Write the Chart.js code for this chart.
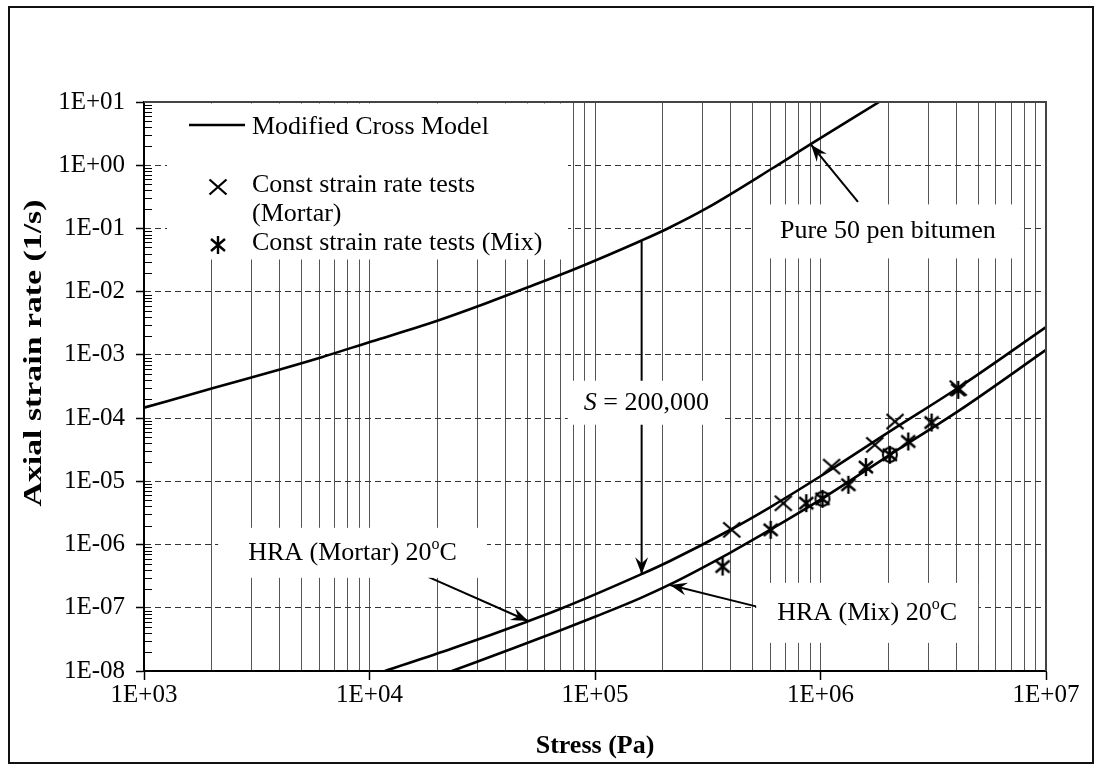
<!DOCTYPE html>
<html>
<head>
<meta charset="utf-8">
<script src="https://cdn.jsdelivr.net/npm/chart.js@4/dist/chart.umd.min.js"></script>
<style>
  html, body { margin: 0; padding: 0; background: #fff; }
  #wrap { width: 1102px; height: 774px; }
</style>
</head>
<body>
<div id="wrap"><canvas id="c" width="1102" height="774"></canvas></div>
<script>
const SERIF = '"Liberation Serif","Times New Roman",Times,serif';

// Modified Cross Model curves: stress (Pa) vs axial strain rate (1/s)
const bitumenStress = [1000, 2030, 4080, 6140, 10200, 16700, 20600, 30900, 51500, 83000, 161000, 208000, 313000, 618000, 897000, 1820000];
const bitumenRate   = [1.46e-4, 2.99e-4, 6.0e-4, 9.2e-4, 1.63e-3, 2.81e-3, 3.6e-3, 6.05e-3, 1.21e-2, 2.35e-2, 6.45e-2, 9.8e-2, 0.209, 0.912, 2.11, 10];

const mortarStress = [11700, 23400, 49900, 70000, 158000, 215000, 397000, 597000, 1020000, 2030000, 4160000, 10000000];
const mortarRate   = [1.0e-8, 2.29e-8, 6.03e-8, 9.55e-8, 3.31e-7, 5.5e-7, 1.70e-6, 3.89e-6, 1.26e-5, 6.17e-5, 3.16e-4, 2.75e-3];

const mixStress = [23200, 43400, 70000, 102000, 158000, 215000, 397000, 597000, 1020000, 2030000, 4160000, 10000000];
const mixRate   = [1.0e-8, 2.29e-8, 4.37e-8, 7.41e-8, 1.41e-7, 2.34e-7, 7.41e-7, 1.70e-6, 5.37e-6, 2.63e-5, 1.35e-4, 1.2e-3];

// Constant strain rate tests
const mortarTestStress = [404000, 684000, 1120000, 1740000, 2140000, 4080000];
const mortarTestRate   = [1.71e-6, 4.5e-6, 1.71e-5, 3.78e-5, 8.83e-5, 2.98e-4];

const mixTestStress = [368000, 601000, 865000, 1020000, 1330000, 1590000, 2030000, 2450000, 3110000, 4080000];
const mixTestRate   = [4.49e-7, 1.71e-6, 4.52e-6, 5.28e-6, 8.81e-6, 1.68e-5, 2.63e-5, 4.27e-5, 8.51e-5, 2.8e-4];
// stresses at which the mix test was repeated
const repeatedMixStress = [1020000, 2030000];

// Axis ticks
const xDecades = [1e3, 1e4, 1e5, 1e6, 1e7];
const xDecadeLabels = ['1E+03', '1E+04', '1E+05', '1E+06', '1E+07'];
const yDecades = [1e-8, 1e-7, 1e-6, 1e-5, 1e-4, 1e-3, 1e-2, 1e-1, 1e0, 1e1];
const yDecadeLabels = ['1E-08', '1E-07', '1E-06', '1E-05', '1E-04', '1E-03', '1E-02', '1E-01', '1E+00', '1E+01'];
const minorSteps = [2, 3, 4, 5, 6, 7, 8, 9];

const pairs = (xs, ys) => xs.map((x, i) => ({x, y: ys[i]}));

// ---- marker glyphs ----
function crossMark() {
  const c = document.createElement('canvas');
  c.width = 22; c.height = 20;
  const g = c.getContext('2d');
  g.strokeStyle = '#000'; g.lineWidth = 2.3;
  g.beginPath();
  g.moveTo(2.5, 2.5); g.lineTo(19.5, 17.5);
  g.moveTo(19.5, 2.5); g.lineTo(2.5, 17.5);
  g.stroke();
  return c;
}
function asteriskMark(circled) {
  const c = document.createElement('canvas');
  c.width = 22; c.height = 22;
  const g = c.getContext('2d');
  g.strokeStyle = '#000'; g.lineWidth = 2.4;
  g.beginPath();
  g.moveTo(4, 5); g.lineTo(18, 17);
  g.moveTo(18, 5); g.lineTo(4, 17);
  g.moveTo(11, 2); g.lineTo(11, 20);
  g.stroke();
  if (circled) {
    g.lineWidth = 2;
    g.beginPath(); g.arc(11, 11, 7, 0, Math.PI * 2); g.stroke();
  }
  return c;
}
const CROSS = crossMark();
const STAR = asteriskMark(false);
const STAR_RING = asteriskMark(true);

// ---- text labels and arrows (data coordinates) ----
const labels = [
  {parts: [{t: 'Pure 50 pen bitumen'}], x: 1.99e6, y: 0.0897, padX: 25, padY: 27},
  {parts: [{t: 'S', it: true}, {t: ' = 200,000'}], x: 1.69e5, y: 1.75e-4, padX: 16, padY: 22},
  {parts: [{t: 'HRA (Mortar) 20'}, {t: 'o', sup: true}, {t: 'C'}], x: 8.41e3, y: 7.4e-7, padX: 30, padY: 25},
  {parts: [{t: 'HRA (Mix) 20'}, {t: 'o', sup: true}, {t: 'C'}], x: 1.61e6, y: 8.3e-8, padX: 21, padY: 30}
];
const arrows = [
  {from: [1.466e6, 0.264], to: [9.08e5, 2.11]},
  {from: [1.61e5, 0.064], to: [1.61e5, 3.4e-7]},
  {from: [1.82e4, 3.08e-7], to: [5.05e4, 6.17e-8]},
  {from: [5.97e5, 9.27e-8], to: [2.15e5, 2.3e-7]}
];

const FS = 26;
function fontFor(p) {
  const size = p.sup ? Math.round(FS * 0.62) : FS;
  return (p.it ? 'italic ' : '') + size + 'px ' + SERIF;
}
function measureParts(ctx, parts) {
  let w = 0;
  parts.forEach(p => { ctx.font = fontFor(p); w += ctx.measureText(p.t).width; });
  return w;
}
function drawParts(ctx, parts, cx, cy) {
  const w = measureParts(ctx, parts);
  let x = cx - w / 2;
  ctx.textAlign = 'left';
  ctx.textBaseline = 'middle';
  ctx.fillStyle = '#000';
  parts.forEach(p => {
    ctx.font = fontFor(p);
    ctx.fillText(p.t, x, p.sup ? cy - FS * 0.32 : cy);
    x += ctx.measureText(p.t).width;
  });
}
function drawArrow(ctx, x1, y1, x2, y2) {
  ctx.beginPath(); ctx.moveTo(x1, y1); ctx.lineTo(x2, y2); ctx.stroke();
  const a = Math.atan2(y2 - y1, x2 - x1), L = 17, W = 6.5;
  const c = Math.cos(a), s = Math.sin(a);
  ctx.beginPath();
  ctx.moveTo(x2, y2);
  ctx.lineTo(x2 - L * c + W * s, y2 - L * s - W * c);
  ctx.lineTo(x2 - L * 0.65 * c, y2 - L * 0.65 * s);
  ctx.lineTo(x2 - L * c - W * s, y2 - L * s + W * c);
  ctx.closePath();
  ctx.fill();
}

const decorations = {
  id: 'decorations',
  beforeDatasetsDraw(chart) {
    const {ctx, chartArea: a, scales: {x, y}} = chart;
    ctx.save();
    ctx.beginPath(); ctx.rect(a.left, a.top, a.right - a.left, a.bottom - a.top); ctx.clip();
    // arrows
    ctx.strokeStyle = '#000'; ctx.fillStyle = '#000'; ctx.lineWidth = 2;
    arrows.forEach(ar => {
      drawArrow(ctx, x.getPixelForValue(ar.from[0]), y.getPixelForValue(ar.from[1]),
                     x.getPixelForValue(ar.to[0]), y.getPixelForValue(ar.to[1]));
    });
    // legend panel
    ctx.fillStyle = '#fff';
    ctx.fillRect(a.left + 23, a.top + 1.5, 401, 156);
    // label panels and texts
    labels.forEach(l => {
      const cx = x.getPixelForValue(l.x), cy = y.getPixelForValue(l.y);
      const w = measureParts(ctx, l.parts);
      ctx.fillStyle = '#fff';
      ctx.fillRect(cx - w / 2 - l.padX, cy - l.padY, w + 2 * l.padX, 2 * l.padY);
      drawParts(ctx, l.parts, cx, cy);
    });
    // legend contents
    const lx = a.left, ly = a.top;
    ctx.strokeStyle = '#000'; ctx.lineWidth = 2.5;
    ctx.beginPath(); ctx.moveTo(lx + 45, ly + 23); ctx.lineTo(lx + 101, ly + 23); ctx.stroke();
    ctx.drawImage(CROSS, lx + 74 - CROSS.width / 2, ly + 85 - CROSS.height / 2);
    ctx.drawImage(STAR, lx + 74 - STAR.width / 2, ly + 143 - STAR.height / 2);
    ctx.font = FS + 'px ' + SERIF; ctx.fillStyle = '#000';
    ctx.textAlign = 'left'; ctx.textBaseline = 'middle';
    ctx.fillText('Modified Cross Model', lx + 108, ly + 25);
    ctx.fillText('Const strain rate tests', lx + 108, ly + 83);
    ctx.fillText('(Mortar)', lx + 108, ly + 112);
    ctx.fillText('Const strain rate tests (Mix)', lx + 108, ly + 141);
    ctx.restore();
  },
  afterDraw(chart) {
    const {ctx, chartArea: a, scales: {y}} = chart;
    ctx.save();
    // inward minor ticks on the strain rate axis
    ctx.strokeStyle = '#000'; ctx.lineWidth = 1;
    ctx.beginPath();
    yDecades.slice(0, -1).forEach(d => minorSteps.forEach(m => {
      const py = Math.round(y.getPixelForValue(d * m)) + 0.5;
      ctx.moveTo(a.left, py); ctx.lineTo(a.left + 8, py);
    }));
    ctx.stroke();
    // top and right edges of the plot area
    ctx.strokeStyle = '#444'; ctx.lineWidth = 2;
    ctx.beginPath();
    ctx.moveTo(a.left, a.top); ctx.lineTo(a.right, a.top); ctx.lineTo(a.right, a.bottom);
    ctx.stroke();
    // axis titles
    ctx.fillStyle = '#000';
    ctx.font = 'bold 26px ' + SERIF;
    ctx.textAlign = 'center'; ctx.textBaseline = 'middle';
    ctx.fillText('Stress (Pa)', (a.left + a.right) / 2, 746);
    ctx.save();
    ctx.translate(34, 353);
    ctx.rotate(-Math.PI / 2);
    ctx.scale(1.3, 1);
    ctx.fillText('Axial strain rate (1/s)', 0, 0);
    ctx.restore();
    // outer frame
    ctx.strokeStyle = '#111'; ctx.lineWidth = 2;
    ctx.strokeRect(9, 7, 1084, 756);
    ctx.restore();
  }
};

const curveStyle = {
  borderColor: '#000', borderWidth: 2.6, pointRadius: 0, fill: false,
  cubicInterpolationMode: 'monotone', showLine: true
};

new Chart(document.getElementById('c'), {
  type: 'scatter',
  data: {
    datasets: [
      {label: 'Pure 50 pen bitumen', data: pairs(bitumenStress, bitumenRate), ...curveStyle},
      {label: 'HRA (Mortar) 20°C', data: pairs(mortarStress, mortarRate), ...curveStyle},
      {label: 'HRA (Mix) 20°C', data: pairs(mixStress, mixRate), ...curveStyle},
      {label: 'Const strain rate tests (Mortar)', data: pairs(mortarTestStress, mortarTestRate),
       pointStyle: CROSS, pointRadius: 10, showLine: false},
      {label: 'Const strain rate tests (Mix)', data: pairs(mixTestStress, mixTestRate),
       pointStyle: c => repeatedMixStress.includes(c.raw && c.raw.x) ? STAR_RING : STAR,
       pointRadius: 10, showLine: false}
    ]
  },
  options: {
    responsive: false,
    animation: false,
    devicePixelRatio: 1,
    layout: {padding: {left: 0, top: 102, right: 56, bottom: 0}},
    plugins: {legend: {display: false}, tooltip: {enabled: false}},
    scales: {
      x: {
        type: 'logarithmic', min: 1e3, max: 1e7,
        afterBuildTicks(scale) {
          const t = [];
          xDecades.forEach((d, i) => {
            t.push({value: d, major: true});
            if (i < xDecades.length - 1) minorSteps.forEach(m => t.push({value: d * m, major: false}));
          });
          scale.ticks = t;
        },
        afterFit(scale) { scale.height = 103; },
        ticks: {
          autoSkip: false, maxRotation: 0, minRotation: 0, padding: 0, color: '#000',
          font: {family: SERIF, size: 25},
          callback(v) { const i = xDecades.indexOf(v); return i >= 0 ? xDecadeLabels[i] : ''; }
        },
        grid: {
          color: '#555', lineWidth: 1, tickLength: 9, tickWidth: 1.5,
          tickColor: c => (c.tick && c.tick.major) ? '#000' : 'rgba(0,0,0,0)'
        },
        border: {display: true, color: '#000', width: 2}
      },
      y: {
        type: 'logarithmic', min: 1e-8, max: 10,
        afterBuildTicks(scale) { scale.ticks = yDecades.map(v => ({value: v, major: true})); },
        afterFit(scale) { scale.width = 144; },
        ticks: {
          autoSkip: false, padding: 11, color: '#000',
          font: {family: SERIF, size: 25},
          callback(v) { const i = yDecades.findIndex(d => Math.abs(Math.log10(d) - Math.log10(v)) < 1e-6); return i >= 0 ? yDecadeLabels[i] : ''; }
        },
        grid: {color: '#333', lineWidth: 1, tickLength: 8, tickWidth: 1.5, tickColor: '#000'},
        border: {display: true, color: '#000', width: 2, dash: [6, 4]}
      }
    }
  },
  plugins: [decorations]
});
</script>
</body>
</html>
